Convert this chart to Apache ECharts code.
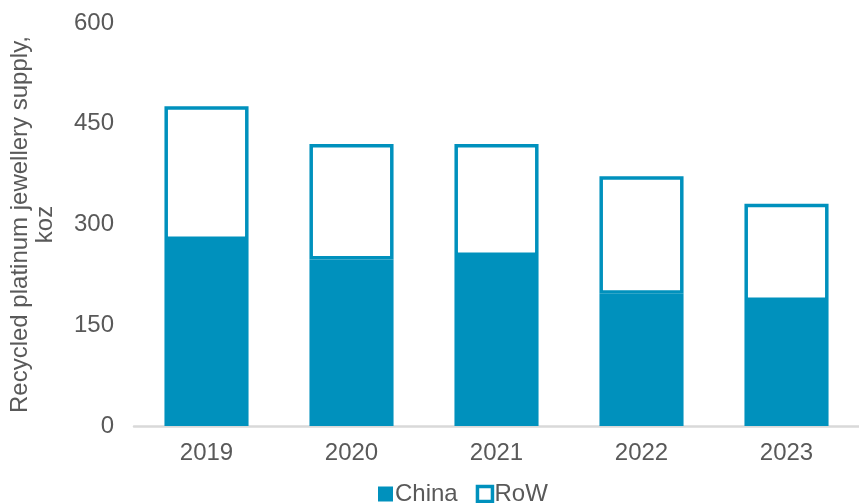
<!DOCTYPE html>
<html>
<head>
<meta charset="utf-8">
<script src="https://cdn.jsdelivr.net/npm/echarts@6/dist/echarts.min.js"></script>
<style>
html,body{margin:0;padding:0;background:#fff;}
#chart{width:859px;height:503px;}
</style>
</head>
<body>
<div id="chart"></div>
<script>
const categories = ['2019', '2020', '2021', '2022', '2023'];
const chinaValues = [277, 248, 253, 197, 186];
const rowValues = [199, 172, 167, 175, 145];
const yTicks = [0, 150, 300, 450, 600];

const blue = '#0091BD';
const chart = echarts.init(document.getElementById('chart'));
chart.setOption({
  animation: false,
  textStyle: { fontFamily: 'Liberation Sans, Arial, sans-serif' },
  grid: { left: 130.4, right: -6, top: 23, bottom: 77, containLabel: false },
  legend: {
    bottom: -3,
    left: 378,
    padding: 0,
    itemWidth: 15,
    itemHeight: 15,
    itemGap: 18,
    textStyle: { fontSize: 24, color: '#595959', padding: [0, 0, 0, -3] },
    data: [
      { name: 'China', icon: 'rect', itemStyle: { color: blue } },
      { name: 'RoW', icon: 'rect', itemStyle: { color: '#fff', borderColor: blue, borderWidth: 3.5 } }
    ]
  },
  xAxis: {
    type: 'category',
    data: categories,
    axisLine: { lineStyle: { color: '#d9d9d9', width: 2.5 } },
    axisTick: { show: false },
    axisLabel: { fontSize: 24, color: '#595959', margin: 15 }
  },
  yAxis: {
    type: 'value',
    min: yTicks[0],
    max: yTicks[yTicks.length - 1],
    interval: 150,
    name: 'Recycled platinum jewellery supply,\nkoz',
    nameLocation: 'middle',
    nameGap: 76,
    nameTextStyle: { fontSize: 24, color: '#595959', lineHeight: 25 },
    axisLine: { show: false },
    axisTick: { show: false },
    splitLine: { show: false },
    axisLabel: { fontSize: 24, color: '#595959', margin: 20 }
  },
  series: [
    {
      name: 'China',
      type: 'bar',
      stack: 'total',
      data: chinaValues,
      barCategoryGap: '42%',
      itemStyle: { color: blue }
    },
    {
      name: 'RoW',
      type: 'bar',
      stack: 'total',
      data: rowValues,
      barCategoryGap: '42%',
      itemStyle: { color: '#fff', borderColor: blue, borderWidth: 3.5 }
    }
  ]
});
</script>
</body>
</html>
